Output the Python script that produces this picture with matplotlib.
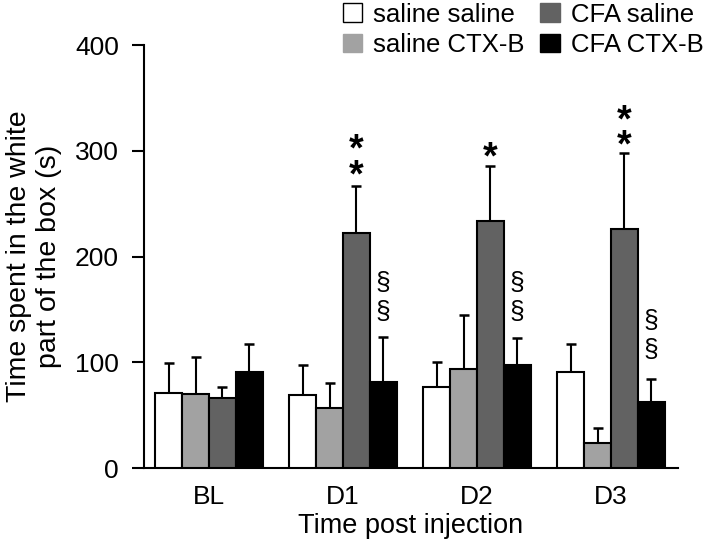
import matplotlib.pyplot as plt
import numpy as np
from matplotlib.patches import Patch

plt.rcParams["font.family"] = ["Liberation Sans", "DejaVu Sans"]

groups = ["BL", "D1", "D2", "D3"]
series_names = ["saline saline", "saline CTX-B", "CFA saline", "CFA CTX-B"]
saline_saline = [71, 69, 77, 91]
saline_ctxb = [70, 57, 94, 24]
cfa_saline = [66, 222, 234, 226]
cfa_ctxb = [91, 81, 97, 62]
saline_saline_err = [28, 28, 23, 26]
saline_ctxb_err = [35, 23, 51, 14]
cfa_saline_err = [11, 45, 52, 72]
cfa_ctxb_err = [26, 43, 26, 22]

# significance marks: (group index, series index, text, y of the middle)
stars = [(1, 2, "*\n*", 296), (2, 2, "*", 301), (3, 2, "*\n*", 324)]
sections = [(1, 3, "§\n§", 161), (2, 3, "§\n§", 161), (3, 3, "§\n§", 125)]

colors = ["#ffffff", "#a2a2a2", "#626262", "#000000"]
values = [saline_saline, saline_ctxb, cfa_saline, cfa_ctxb]
errors = [saline_saline_err, saline_ctxb_err, cfa_saline_err, cfa_ctxb_err]

fig = plt.figure(figsize=(7.2, 5.47), dpi=100)
ax = fig.add_axes([0.2, 0.1444, 0.7417, 0.7733])

x = np.arange(len(groups))
width = 0.2
offsets = [-1.5 * width, -0.5 * width, 0.5 * width, 1.5 * width]

for vals, errs, color, off in zip(values, errors, colors, offsets):
    ax.bar(x + off, vals, width, color=color, edgecolor="black", linewidth=1.5, zorder=3)
    ax.errorbar(x + off, vals, yerr=[np.zeros(len(vals)), errs], fmt="none",
                ecolor="black", elinewidth=1.5, capsize=3.5, capthick=1.8, zorder=2)

for g, s, txt, y in stars:
    ax.text(x[g] + offsets[s], y - 8, txt, ha="center", va="center",
            fontsize=27, fontweight="bold", linespacing=0.62)
for g, s, txt, y in sections:
    ax.text(x[g] + offsets[s], y, txt, ha="center", va="center", fontsize=19,
            linespacing=1.25)

ax.set_xlim(-0.485, 3.5)
ax.set_ylim(0, 400)
ax.set_yticks([0, 100, 200, 300, 400])
ax.set_xticks(x)
ax.set_xticklabels(groups)
ax.tick_params(axis="y", length=9, width=1.5, pad=9, labelsize=19)
ax.tick_params(axis="x", length=0, pad=12, labelsize=19)
for side in ["top", "right"]:
    ax.spines[side].set_visible(False)
for side in ["left", "bottom"]:
    ax.spines[side].set_linewidth(1.5)

ax.set_xlabel("Time post injection", fontsize=19.5, labelpad=3)
ax.set_ylabel("Time spent in the white\npart of the box (s)", fontsize=20.5,
              labelpad=9, linespacing=1.2)

handles = [Patch(facecolor=c, edgecolor="black" if i == 0 else c, linewidth=1)
           for i, c in enumerate(colors)]
fig.legend(handles, series_names, ncol=2, loc="upper left",
           bbox_to_anchor=(340 / 720, 1.0), frameon=False, fontsize=18.5,
           handlelength=0.75, handleheight=0.75, handletextpad=0.45,
           columnspacing=0.6, labelspacing=0.25, borderpad=0.05, borderaxespad=0.05)

fig.savefig("out.png", dpi=100)
